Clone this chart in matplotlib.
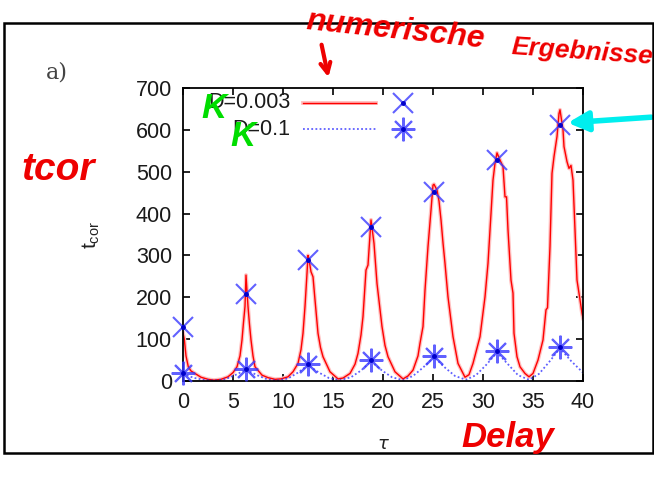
import matplotlib
matplotlib.use('Agg')
import matplotlib.pyplot as plt
import matplotlib.patheffects as pe
from matplotlib.patches import Rectangle

# red curve, D=0.003 (tau, t_cor)
tau_a = [0.0, 0.13, 0.3, 0.53, 0.8, 1.2, 1.8, 2.5, 3.1, 3.8, 4.5, 5.0, 5.4, 5.7, 5.9,
         6.05, 6.2, 6.3, 6.4, 6.5, 6.65, 6.8, 7.0, 7.2, 7.9, 8.5, 9.2, 9.8, 10.5, 11.0,
         11.5, 11.8, 12.0, 12.2, 12.4, 12.5, 12.6, 12.8, 13.0, 13.2, 13.5, 13.75, 14.0,
         14.7, 15.5, 16.0, 16.7, 17.2, 17.5, 17.8, 18.0, 18.3, 18.5, 18.8, 19.1, 19.4,
         19.9, 20.2, 20.5, 21.2, 22.0, 22.5, 23.0, 23.5, 23.7, 24.0, 24.2, 24.5, 24.8,
         25.0, 25.1, 25.4, 25.6, 25.8, 26.0, 26.2, 26.5, 27.0, 27.5, 28.2, 28.6, 29.0,
         29.7, 30.2, 30.5, 30.8, 31.0, 31.2, 31.4, 31.7, 32.0, 32.2, 32.35, 32.5, 32.8,
         33.0, 33.1, 33.4, 33.7, 34.2, 34.6, 35.0, 35.5, 36.0, 36.3, 36.45, 36.7, 36.9,
         37.1, 37.4, 37.6, 37.7, 38.0, 38.1, 38.4, 38.6, 38.8, 39.0, 39.2, 39.4, 39.7,
         39.9, 40.0]
tcor_a = [115, 100, 60, 34, 24, 18, 9, 4, 2, 4, 10, 20, 34, 60, 98,
          140, 178, 253, 215, 178, 135, 98, 60, 34, 14, 8, 4, 5, 10, 22,
          42, 75, 114, 178, 257, 300, 290, 261, 249, 194, 114, 80, 58,
          22, 5, 7, 18, 40, 66, 110, 154, 265, 277, 385, 329, 233,
          130, 85, 58, 22, 5, 12, 26, 60, 90, 130, 217, 321, 408,
          468, 470, 456, 430, 385, 330, 281, 201, 106, 42, 9, 15, 42,
          106, 201, 281, 400, 480, 520, 545, 528, 512, 440, 440, 361, 241,
          210, 114, 58, 34, 18, 10, 18, 50, 98, 170, 175, 321, 496,
          536, 584, 639, 648, 600, 560, 524, 508, 515, 480, 361, 241, 194,
          162, 150]

# blue dotted curve, D=0.1
tau_b = [0, 1, 2, 3.1, 4.2, 5.2, 6.3, 7.4, 8.4, 9.4, 10.5, 11.5, 12.5, 13.6, 14.6,
         15.7, 16.8, 17.8, 18.8, 19.9, 20.9, 22.0, 23.0, 24.0, 25.1, 26.2, 27.2, 28.3,
         29.3, 30.3, 31.4, 32.5, 33.5, 34.6, 35.6, 36.6, 37.7, 38.8, 40.0]
tcor_b = [18, 8, 3, 1, 4, 14, 27, 14, 4, 1, 6, 20, 38, 20, 7,
          2, 9, 25, 47, 25, 9, 2, 12, 32, 57, 32, 12, 3,
          14, 38, 68, 40, 14, 3, 17, 45, 78, 48, 20]

# numerical results (points)
tau_pts = [0.0, 6.3, 12.5, 18.8, 25.1, 31.4, 37.7]
num_a = [128, 208, 289, 368, 451, 528, 612]
num_b = [18, 29, 41, 50, 60, 72, 81]

labels = ['D=0.003', 'D=0.1']

W, H = 654, 487
fig = plt.figure(figsize=(W / 100, H / 100), dpi=100)
ax = fig.add_axes([183 / W, 1 - 381 / H, 400 / W, 293 / H])


def fpos(x, y):
    return (x / W, 1 - y / H)


red_fx = [pe.Stroke(linewidth=2.8, foreground='#ffc0c0'), pe.Normal()]
red_st = dict(color='#ff0000', lw=1.0, path_effects=red_fx)
blue_st = dict(color='#2a2aff', lw=1.3, ls=(0, (1, 1.3)), alpha=0.75)
ast = (8, 2, 0)
pt_st = dict(ls='none', mew=1.5, color='#3a3aff', alpha=0.8)
dot_st = dict(ls='none', marker='o', ms=2.5, color='#0000cc')

ax.plot(tau_a, tcor_a, **red_st)
ax.plot(tau_b, tcor_b, **blue_st)

ax.plot(tau_pts, num_a, marker='x', ms=14, clip_on=False, zorder=5, **pt_st)
ax.plot(tau_pts, num_b, marker=ast, ms=17, clip_on=False, zorder=5, **pt_st)
ax.plot(tau_pts, num_a, clip_on=False, zorder=6, **dot_st)
ax.plot(tau_pts, num_b, clip_on=False, zorder=6, **dot_st)

ax.set_xlim(0, 40)
ax.set_ylim(0, 700)
ax.set_xticks(range(0, 41, 5))
ax.set_yticks(range(0, 701, 100))
ax.tick_params(direction='in', length=5, width=1.2, top=True, right=True,
               labelsize=15.5, labelcolor='#1a1a1a', pad=8)
for lab in ax.get_xticklabels() + ax.get_yticklabels():
    lab.set_family('Liberation Sans')
for s in ax.spines.values():
    s.set_linewidth(1.3)

ax.set_ylabel(r'$\mathregular{t_{cor}}$', fontsize=15, family='Liberation Sans',
              color='#222222', labelpad=24)
ax.set_xlabel(r'$\tau$', fontsize=13, color='#222222', labelpad=16)

# legend (gnuplot style: text, line sample, point sample)
rows = [0.949, 0.860]
for yy, lab, st, mk, ms in zip(rows, labels, [red_st, blue_st], ['x', ast], [14, 17]):
    ax.text(0.2675, yy, lab, transform=ax.transAxes, ha='right', va='center',
            fontsize=15.5, family='Liberation Sans', color='#1a1a1a')
    ax.plot([0.30, 0.4825], [yy, yy], transform=ax.transAxes, **st)
    ax.plot([0.55], [yy], transform=ax.transAxes, marker=mk, ms=ms, **pt_st)
    ax.plot([0.55], [yy], transform=ax.transAxes, **dot_st)

# outer frame
fig.patches.append(Rectangle(fpos(4, 453), 649 / W, 430 / H, transform=fig.transFigure,
                             fill=False, ec='black', lw=1.8))
fig.text(*fpos(57, 72), 'a)', fontsize=16, family='DejaVu Serif', color='#444444',
         ha='center', va='center')

# handwritten annotations
hand = dict(fontweight='bold', fontstyle='italic', family='Liberation Sans')
fig.text(*fpos(395, 30), 'numerische', color='#ee0000', fontsize=23, ha='center',
         va='center', rotation=-6, **hand)
fig.text(*fpos(511, 52), 'Ergebnisse', color='#ee0000', fontsize=19, ha='left',
         va='center', rotation=-4, **hand)
fig.text(*fpos(58, 170), 'tcor', color='#ee0000', fontsize=28, ha='center',
         va='center', **hand)
fig.text(*fpos(508, 437), 'Delay', color='#ee0000', fontsize=25, ha='center',
         va='center', **hand)
fig.text(*fpos(214, 109), 'K', color='#00dd00', fontsize=25, ha='center',
         va='center', **hand)
fig.text(*fpos(243, 137), 'K', color='#00dd00', fontsize=25, ha='center',
         va='center', **hand)
ax.annotate('', xy=fpos(329, 80), xytext=fpos(321, 42), xycoords='figure fraction',
            textcoords='figure fraction',
            arrowprops=dict(arrowstyle='->', color='#ee0000', lw=3, mutation_scale=18))
ax.annotate('', xy=fpos(565, 123), xytext=fpos(654, 117), xycoords='figure fraction',
            textcoords='figure fraction',
            arrowprops=dict(arrowstyle='-|>', color='#00eeee', lw=4, mutation_scale=30))

fig.savefig('out.png', dpi=100)
